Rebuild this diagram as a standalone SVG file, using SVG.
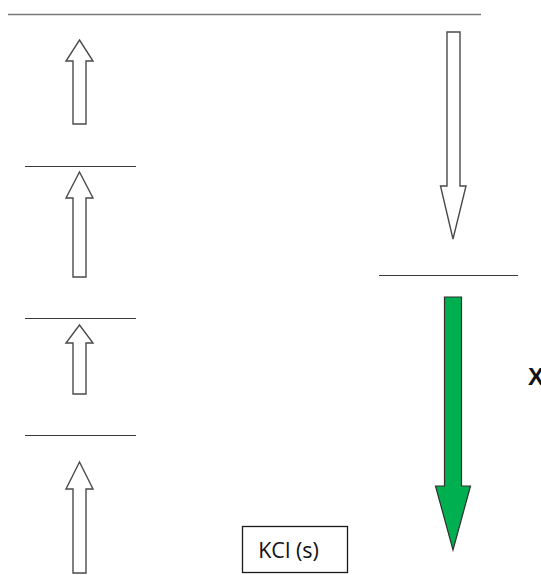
<svg xmlns="http://www.w3.org/2000/svg" width="541" height="575" viewBox="0 0 541 575">
  <style>
    .level { stroke: #3a3a3a; stroke-width: 1.2; fill: none; }
    .top { stroke: #7a7a7a; stroke-width: 1.6; fill: none; }
    .hollow { fill: #ffffff; stroke: #4a4a4a; stroke-width: 1.4; stroke-linejoin: miter; }
    .green { fill: #00b050; stroke: #2f2f2f; stroke-width: 1.2; }
    .box { fill: #ffffff; stroke: #1a1a1a; stroke-width: 1.3; }
    .label { font-family: "Open Sans", "Noto Sans", sans-serif; font-size: 21.5px; fill: #111111; }
    .x { font-family: "Liberation Sans", Arial, sans-serif; font-size: 24px; font-weight: bold; fill: #111111; }
  </style>

  <!-- energy levels -->
  <g id="levels">
    <line class="top" x1="8" y1="14.5" x2="481" y2="14.5"/>
    <line class="level" x1="25" y1="166.5" x2="136" y2="166.5"/>
    <line class="level" x1="25" y1="318.5" x2="136" y2="318.5"/>
    <line class="level" x1="25" y1="435.5" x2="136" y2="435.5"/>
    <line class="level" x1="379" y1="275.5" x2="518" y2="275.5"/>
  </g>

  <!-- step arrows -->
  <g id="connectors">
    <path id="up1" class="hollow" d="M79.5,40 L93,61 L86,61 L86,124 L73,124 L73,61 L66,61 Z"/>
    <path id="up2" class="hollow" d="M79.5,172 L93,198 L86,198 L86,277 L73,277 L73,198 L66,198 Z"/>
    <path id="up3" class="hollow" d="M79.5,325 L93,343 L86,343 L86,394 L73,394 L73,343 L66,343 Z"/>
    <path id="up4" class="hollow" d="M79.5,462 L93,489 L86,489 L86,573 L73,573 L73,489 L66,489 Z"/>
    <path id="down1" class="hollow" d="M447,32 L460,32 L460,186 L466,186 L453,239 L440.5,186 L447,186 Z"/>
    <path id="down2" class="green" d="M444.5,297 L461.5,297 L461.5,486 L470.5,486 L453,550 L435.5,486 L444.5,486 Z"/>
  </g>

  <g id="kcl">
    <rect class="box" x="242.5" y="526.5" width="105" height="46"/>
    <text class="label" x="288.5" y="558" text-anchor="middle">KCl (s)</text>
  </g>

  <!-- label runs past the right edge of the canvas -->
  <g id="x-label">
    <text class="x" x="528" y="385">X</text>
  </g>
</svg>
